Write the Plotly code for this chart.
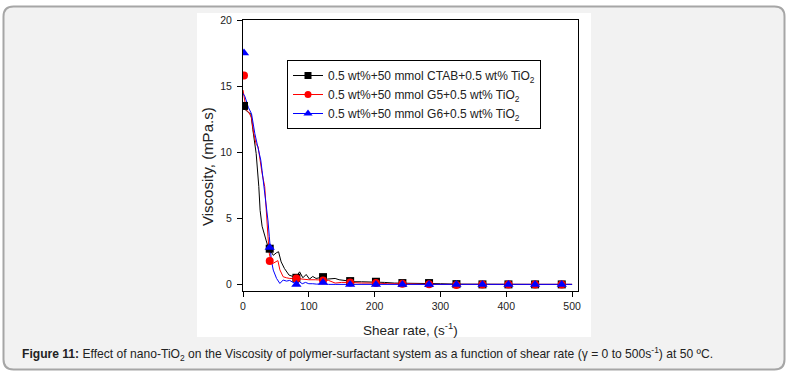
import plotly.graph_objects as go

# ---------------- data ----------------
series_names = [
    "0.5 wt%+50 mmol CTAB+0.5 wt% TiO<sub>2</sub>",
    "0.5 wt%+50 mmol G5+0.5 wt% TiO<sub>2</sub>",
    "0.5 wt%+50 mmol G6+0.5 wt% TiO<sub>2</sub>",
]

# dense measured curves
ctab_x = [0, 4, 8, 12, 15, 18, 20, 24, 26, 29, 32, 35, 38, 42, 46, 51, 54, 58, 63, 70, 76, 81, 86, 91, 96, 101, 106, 111, 116, 122, 128, 134, 140, 146, 152, 158, 163, 170, 180, 190, 203, 215, 230, 243, 260, 284, 300, 324, 365, 405, 445, 486, 500]
ctab_y = [13.3, 13.2, 13.0, 12.9, 11.7, 10.8, 9.9, 7.4, 5.6, 4.4, 3.8, 3.35, 2.85, 2.5, 2.2, 2.4, 2.47, 1.7, 1.2, 0.7, 0.6, 0.58, 0.95, 0.5, 0.75, 0.4, 0.6, 0.45, 0.5, 0.55, 0.4, 0.4, 0.45, 0.35, 0.3, 0.3, 0.25, 0.2, 0.2, 0.2, 0.2, 0.15, 0.1, 0.1, 0.05, 0.05, 0.05, 0.02, 0, 0, 0, 0, 0]

g5_x = [0, 3, 5, 9, 13, 16, 20, 23, 26, 29, 33, 35, 38, 40, 43, 46, 50, 53, 56, 61, 66, 71, 81, 90, 100, 110, 122, 130, 140, 150, 163, 180, 203, 220, 243, 270, 284, 324, 500]
g5_y = [14.7, 13.8, 13.2, 13.0, 12.6, 11.5, 10.6, 10.4, 9.2, 8.4, 7.4, 5.6, 3.6, 2.3, 1.7, 1.6, 1.75, 1.8, 1.1, 0.58, 0.5, 0.45, 0.45, 0.4, 0.35, 0.35, 0.3, 0.3, 0.1, 0.15, 0.15, 0.1, 0.1, 0.05, 0.05, 0.0, 0.0, 0.0, 0.0]

g6_x = [0, 3, 8, 13, 18, 21, 24, 27, 29, 32, 35, 38, 40, 43, 46, 51, 56, 61, 66, 71, 76, 81, 86, 90, 95, 100, 106, 112, 122, 130, 140, 500]
g6_y = [14.45, 14.2, 13.4, 12.9, 11.4, 10.8, 10.2, 9.4, 8.6, 7.4, 6.1, 4.8, 3.6, 1.84, 1.08, 0.45, 0.07, 0.33, 0.25, 0.3, 0.15, 0.05, 0.2, 0.05, 0.15, 0.05, 0.05, 0.02, 0.05, 0.0, 0.0, 0.0]

# symbol points
mark_x = [1.5, 40.6, 81.1, 121.6, 162.8, 202.0, 242.2, 282.7, 324.3, 363.8, 403.3, 443.8, 484.3]
ctab_my = [13.5, 2.7, 0.5, 0.55, 0.25, 0.2, 0.1, 0.1, 0.02, 0.0, 0.0, 0.0, 0.0]
g5_my = [15.8, 1.76, 0.45, 0.3, 0.15, 0.1, 0.05, 0.02, -0.05, 0.0, 0.0, 0.0, 0.0]
g6_my = [17.5, 2.8, 0.0, 0.15, 0.0, 0.0, 0.0, 0.0, 0.0, 0.0, 0.0, 0.0, 0.0]

x_ticks = [0, 100, 200, 300, 400, 500]
y_ticks = [0, 5, 10, 15, 20]

x_title = "Shear rate, (s<sup>-1</sup>)"
y_title = "Viscosity, (mPa.s)"
caption = ("<b>Figure 11:</b> Effect of nano-TiO<sub>2</sub> on the Viscosity of polymer-surfactant "
           "system as a function of shear rate (γ = 0 to 500s<sup>-1</sup>) at 50 ºC.")

# ---------------- figure ----------------
W, H = 788, 374
L, R, T, B = 243, 578, 20, 291

def px(xp):
    return (xp - L) / (R - L)

def py(yp):
    return (B - yp) / (B - T)

colors = ["#000000", "#ff0000", "#0000ff"]
symbols = ["square", "circle", "triangle-up"]
sizes = [8, 8, 9]
lines = [(ctab_x, ctab_y), (g5_x, g5_y), (g6_x, g6_y)]
marks = [ctab_my, g5_my, g6_my]

fig = go.Figure()
for i in range(3):
    fig.add_trace(go.Scatter(x=lines[i][0], y=lines[i][1], mode="lines",
                             line=dict(color=colors[i], width=1), showlegend=False,
                             hoverinfo="skip"))
for i in range(3):
    fig.add_trace(go.Scatter(x=mark_x, y=marks[i], mode="markers",
                             marker=dict(color=colors[i], symbol=symbols[i], size=sizes[i]),
                             showlegend=False))
for i in range(3):
    fig.add_trace(go.Scatter(x=[None], y=[None], mode="lines+markers", name=series_names[i],
                             line=dict(color=colors[i], width=1),
                             marker=dict(color=colors[i], symbol=symbols[i], size=sizes[i] - 1)))

# rounded outer panel
x0, x1, y0, y1, r = px(3.5), px(784.5), py(6.5), py(369.5), 10
rx = r / (R - L)
ry = r / (B - T)
path = (f"M {x0+rx},{y0} L {x1-rx},{y0} Q {x1},{y0} {x1},{y0-ry} "
        f"L {x1},{y1+ry} Q {x1},{y1} {x1-rx},{y1} L {x0+rx},{y1} "
        f"Q {x0},{y1} {x0},{y1+ry} L {x0},{y0-ry} Q {x0},{y0} {x0+rx},{y0} Z")

shapes = [
    dict(type="path", xref="paper", yref="paper", path=path,
         fillcolor="#f2f2f2", line=dict(color="#a6a6a6", width=2), layer="below"),
    dict(type="rect", xref="paper", yref="paper", x0=px(197), x1=px(591), y0=py(13), y1=py(337),
         fillcolor="#ffffff", line=dict(width=0), layer="below"),
]

font_family = "Arial, Liberation Sans, sans-serif"

fig.update_layout(
    width=W, height=H,
    margin=dict(l=L, r=W - R, t=T, b=H - B, autoexpand=False),
    paper_bgcolor="#ffffff", plot_bgcolor="#ffffff",
    font=dict(family=font_family, color="#222222"),
    shapes=shapes,
    showlegend=True,
    legend=dict(x=px(287), y=py(60), xanchor="left", yanchor="top",
                bordercolor="#000000", borderwidth=1, bgcolor="#ffffff",
                font=dict(size=12, color="#222222", family=font_family),
                tracegroupgap=0, itemwidth=30),
    annotations=[
        dict(text=caption, xref="paper", yref="paper", x=px(20), y=py(354),
             xanchor="left", yanchor="middle", showarrow=False,
             font=dict(size=12.1, color="#222222", family=font_family)),
        dict(text=x_title, xref="paper", yref="paper", x=px(410.5), y=py(329),
             xanchor="center", yanchor="middle", showarrow=False,
             font=dict(size=13.5, color="#222222", family=font_family)),
        dict(text=y_title, xref="paper", yref="paper", x=px(207), y=py(167),
             xanchor="center", yanchor="middle", showarrow=False, textangle=-90,
             font=dict(size=15, color="#222222", family=font_family)),
    ],
)
fig.update_xaxes(range=[0, 509], tickvals=x_ticks, ticks="outside", ticklen=5,
                 tickcolor="#000", showline=True, linecolor="#000", linewidth=1, mirror=True,
                 showgrid=False, zeroline=False, tickfont=dict(size=10.5), automargin=False)
fig.update_yaxes(range=[-0.5, 20], tickvals=y_ticks, ticks="outside", ticklen=5,
                 tickcolor="#000", showline=True, linecolor="#000", linewidth=1, mirror=True,
                 showgrid=False, zeroline=False, tickfont=dict(size=10.5), automargin=False,
                 ticklabelstandoff=3)

fig.write_html("out.html", config={"displayModeBar": False},
               post_script="document.body.style.margin='0';")
